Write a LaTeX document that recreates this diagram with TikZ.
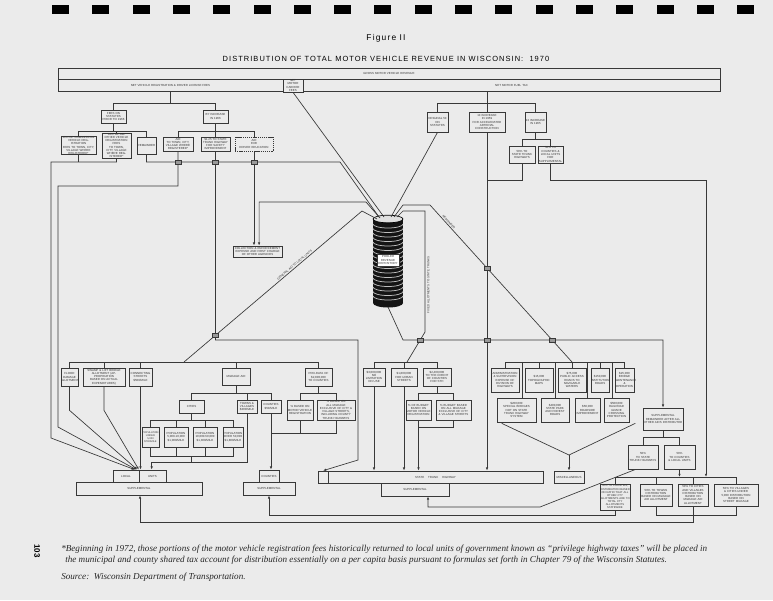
\documentclass[tikz,border=0pt]{standalone}
\usepackage{fontspec}
\setmainfont{Liberation Sans}
\newfontfamily\bxfont{Liberation Sans}
\newfontfamily\ttlfont[LetterSpace=14]{Liberation Sans}
\newfontfamily\fnfont{Liberation Serif}
\usetikzlibrary{arrows.meta,calc}
\definecolor{bgc}{HTML}{EBEBEB}
\definecolor{lc}{HTML}{383838}
\newcommand{\bx}[7][]{%
  \pgfmathsetmacro\bxw{(#4-#2)*0.75}%
  \pgfmathsetmacro\bxh{(#5-#3)*0.75}%
  \pgfmathsetmacro\bxcx{(#2+#4)/2}%
  \pgfmathsetmacro\bxcy{(#3+#5)/2}%
  \node[bx,minimum width=\bxw pt,minimum height=\bxh pt,text width=\bxw pt,#1] (#6) at (\bxcx,\bxcy) {#7};}
\begin{document}
\begin{tikzpicture}[x=0.75pt,y=-0.75pt,
  bx/.style={draw=lc,line width=0.5pt,rectangle,inner sep=0pt,align=center,font=\bxfont\fontsize{2.2}{2.45}\selectfont,text=black!80},
  ln/.style={draw=lc,line width=0.5pt},
  ar/.style={ln,-{Latex[length=2.4pt,width=1.8pt]}},
  mk/.style={draw=lc,fill=black!40,line width=0.4pt,minimum width=4.5pt,minimum height=3pt,inner sep=0pt},
  lbl/.style={font=\bxfont\fontsize{2.2}{2.4}\selectfont,inner sep=0.8pt,text=black!80},
  fn/.style={font=\fnfont\itshape\fontsize{6.85}{7.5}\selectfont,inner sep=0pt,text=black!85}]
\fill[bgc] (0,0) rectangle (773,600);
\useasboundingbox (0,0) rectangle (773,600);
% binding marks
\foreach \i in {0,...,17} \fill[black] ({52+40.3*\i},5) rectangle ({69+40.3*\i},14);
% titles
\node[font=\ttlfont\fontsize{6.3}{7}\selectfont] (fig) at (386,38) {Figure II};
\node[font=\ttlfont\fontsize{5.6}{6.5}\selectfont] (title) at (386,59) {DISTRIBUTION OF TOTAL MOTOR VEHICLE REVENUE IN WISCONSIN:\ \ 1970};
% level helpers
\foreach \v in {103,131,139,162,180,362,393,420,427,433,437,456,463,477,515,522} \coordinate (h\v) at (0,\v);
% top bar
\bx{58}{68}{720}{79}{gross}{GROSS MOTOR VEHICLE REVENUE}
\bx{58}{79}{283}{91}{netreg}{NET VEHICLE REGISTRATION \& DRIVER LICENSE FEES}
\bx{283}{79}{303}{92}{carrier}{NET\\MOTOR\\CARRIER\\FEES}
\bx{303}{79}{720}{91}{fuel}{NET MOTOR FUEL TAX}
% registration tree
\bx{101}{110}{126}{123}{fees}{FEES ON\\STATUTES\\PRIOR TO 1966}
\bx{203}{110}{228}{123}{incr}{BY INCREASE\\IN 1966}
\bx{61}{137}{96}{154}{regA}{10\% OF COMMERCIAL\\VEHICLE REGISTRATION\\FEES TO TOWN, CITY,\\VILLAGE WHERE\\REGISTERED*}
\bx{102}{137}{131}{154}{regB}{30\% OF ALL\\OTHER VEHICLE\\REGISTRATION FEES\\TO TOWN, CITY, VILLAGE\\WHERE REGISTERED*}
\bx{137}{137}{156}{154}{remain}{REMAINDER}
\bx{163}{137}{193}{151}{aidD}{AID\\TO TOWN, CITY,\\VILLAGE WHERE\\REGISTERED*}
\bx{201}{137}{230}{151}{safeE}{\$1.25 TO STATE\\TRUNK HIGHWAY\\FOR SAFETY\\IMPROVEMENT}
\bx[dash pattern=on 1pt off 0.6pt]{235}{137}{273}{151}{drvF}{AID\\FOR\\DRIVER EDUCATION}
\draw[ln] (netreg.south) -- (netreg.south |- h103);
\draw[ln] (fees.north) |- (incr.north |- h103) -- (incr.north);
\draw[ln] (regA.north) |- (remain.north |- h131) -- (remain.north);
\draw[ln] (regB.north) -- (regB.north |- h131);
\draw[ln] (fees.south) -- (fees.south |- h131);
\draw[ln] (aidD.north) |- (drvF.north |- h131) -- (drvF.north);
\draw[ln] (incr.south) -- (safeE.north);
% collection
\bx{233}{246}{282}{257}{collect}{COLLECTION \& ENFORCEMENT\\EXPENSE AND FIRST CHARGE\\OF OTHER AGENCIES}
% fuel tree
\bx{427}{112}{448}{132}{orig}{ORIGINAL 5¢\\ON\\STATUTES}
\bx{469}{112}{505}{132}{inc59}{1¢ INCREASE\\IN 1959\\FOR ACCELERATED\\ARTERIAL\\CONSTRUCTION}
\bx{525}{112}{546}{132}{inc65}{1¢ INCREASE\\IN 1965}
\bx{509}{146}{535}{163}{sth50}{50\% TO\\STATE TRUNK\\HIGHWAYS}
\bx{538}{146}{563}{163}{cl50}{50\% TO\\COUNTIES \&\\LOCAL UNITS\\FOR\\SUPPLEMENTAL}
\draw[ln] (inc59.north |- fuel.south) -- (inc59.north);
\draw[ln] (orig.north) |- (inc65.north |- h103) -- (inc65.north);
\draw[ln] (inc65.south) -- (inc65.south |- h139);
\draw[ln] (sth50.north) |- (cl50.north |- h139) -- (cl50.north);
\draw[ln] (sth50.south) |- (inc59.south |- h180);
% cylinder
\coordinate (cylT) at (388,219);
\fill[black!92] (373,219) rectangle (403,303);
\fill[black!92] (388,303) ellipse [x radius=15, y radius=4.5];
\foreach \yy in {224,228.5,...,300} \draw[white!75!black,line width=0.55pt] (373,\yy) arc[start angle=180,end angle=0,x radius=15,y radius=4];
\filldraw[fill=black!12,draw=black,line width=0.5pt] (cylT) ellipse [x radius=15, y radius=3.8];
\bx[fill=white]{377}{254}{399}{266}{pool}{POOLED\\REVENUE\\DEPOSITORY}
\coordinate (cA) at (377,219);
\coordinate (cB) at (379,217);
\coordinate (cC) at (380,218);
\coordinate (cD) at (384,217);
\coordinate (cE) at (391,217);
\coordinate (cF) at (394,217);
\coordinate (cG) at (397,217);
\coordinate (cBot) at (388,307);
\coordinate (gaEnd) at (184,362);
% middle left tree
\bx{61}{368}{78}{386}{flood}{FLOOD\\DAMAGE\\ALLOTMENT}
\bx{83}{368}{125}{386}{swamp}{SWAMP \& LIFT BRIDGE\\ALLOTMENT (APPROPRIATION\\BASED ON ACTUAL\\EXPENDITURES)}
\bx{129}{368}{152}{386}{connect}{CONNECTING\\STREETS\\\$500/MILE}
\bx{222}{368}{250}{385}{mileage}{MILEAGE AID}
\bx{305}{368}{332}{386}{prorata}{PRO-RATA OF\\\$2,800,000\\TO COUNTIES}
\bx{179}{400}{204}{413}{cities}{CITIES}
\bx{237}{400}{257}{413}{towns}{TOWNS \&\\VILLAGES\\\$300/MILE}
\bx{261}{400}{281}{413}{cntys}{COUNTIES\\\$50/MILE}
\bx[font=\bxfont\fontsize{1.9}{2.3}\selectfont]{142}{427}{159}{447}{popA}{POPULATION\\UNDER\\5,000\\\$700/MILE}
\bx{164}{427}{188}{447}{popB}{POPULATION\\5,000-10,000\\\$1,000/MILE}
\bx{193}{427}{217}{447}{popC}{POPULATION\\10,000-50,000\\\$1,300/MILE}
\bx{223}{427}{243}{447}{popD}{POPULATION\\OVER 50,000\\\$1,800/MILE}
\bx{287}{400}{313}{420}{prA}{\% BASED ON\\MOTOR VEHICLE\\REGISTRATION}
\bx{317}{400}{355}{420}{prB}{\% BASED ON ALL MILEAGE\\EXCLUSIVE OF CITY \&\\VILLAGE STREETS,\\INCLUDING COUNTY\\TRUNK HIGHWAYS}
\draw[ln] (flood.north) |- (prorata.north |- h362) -- (prorata.north);
\draw[ln] (swamp.north) -- (swamp.north |- h362);
\draw[ln] (connect.north) -- (connect.north |- h362);
\draw[ln] (mileage.north) -- (mileage.north |- h362);
\draw[ln] (mileage.south) -- (mileage.south |- h393);
\draw[ln] (cities.north) |- (cntys.north |- h393) -- (cntys.north);
\draw[ln] (towns.north) -- (towns.north |- h393);
\draw[ln] (cities.south) -- (cities.south |- h420);
\draw[ln] (popA.north) |- (popD.north |- h420) -- (popD.north);
\draw[ln] (popB.north) -- (popB.north |- h420);
\draw[ln] (popC.north) -- (popC.north |- h420);
\draw[ln] (popA.south) |- (popD.south |- h456) -- (popD.south);
\draw[ln] (popB.south) -- (popB.south |- h456);
\draw[ln] (popC.south) -- (popC.south |- h456);
\draw[ln] (cities.south |- h456) -- (cities.south |- h463);
\draw[ln] (prorata.south) -- (prorata.south |- h393);
\draw[ln] (prA.north) |- (prB.north |- h393) -- (prB.north);
\draw[ln] (cntys.south) |- (prB.south |- h433) -- (prB.south);
\draw[ln] (prA.south) -- (prA.south |- h433);
% bottom boxes
\bx{113}{470}{139}{482}{local}{LOCAL}
\bx{139}{470}{166}{482}{units}{UNITS}
\bx{76}{482}{202}{495}{supL}{SUPPLEMENTAL}
\bx{259}{470}{279}{482}{counB}{COUNTIES}
\bx{243}{482}{295}{495}{supC}{SUPPLEMENTAL}
\bx{318}{471}{328}{483}{stcell}{}
\bx{328}{471}{543}{483}{sth}{STATE \quad TRUNK \quad HIGHWAY}
\bx{381}{483}{449}{496}{supS}{SUPPLEMENTAL}
\bx{554}{471}{584}{483}{misc}{MISCELLANEOUS}
\draw[ar] (towns.south) |- ($(units.north west)+(13,-7)$) -- ($(units.north west)+(13,0)$);
\draw[ar] (cntys.south) -- (cntys.south |- counB.north);
% middle right trees
\bx{363}{368}{385}{386}{tA}{\$3,000,000\\NO\\LIMITATION\\ON USE}
\bx{391}{368}{417}{386}{tB}{\$1,800,000\\FOR URBAN\\STREETS}
\bx{423}{368}{451}{386}{tC}{\$2,400,000\\TO THE CREDIT\\OF COUNTIES\\FOR STH}
\bx{406}{400}{431}{420}{tD}{\% OF BUDGET\\BASED ON\\MOTOR VEHICLE\\REGISTRATION}
\bx{436}{400}{471}{420}{tE}{\% BUDGET BASED\\ON ALL MILEAGE\\EXCLUSIVE OF CITY\\\& VILLAGE STREETS}
\draw[ln] (tA.north) |- (tC.north |- h362) -- (tC.north);
\draw[ln] (tB.north) -- (tB.north |- h362);
\draw[ar] (tA.south) -- (tA.south |- sth.north);
\draw[ar] (tB.south) -- (tB.south |- sth.north);
\draw[ln] (tC.south) -- (tC.south |- h393);
\draw[ln] (tD.north) |- (tE.north |- h393) -- (tE.north);
\draw[ln] (tD.south) |- (tE.south |- h427) -- (tE.south);
\draw[ar] (tD.south) -- (tD.south |- sth.north);
\bx{491}{368}{519}{392}{adA}{ADMINISTRATION\\\& SUPERVISION\\EXPENSE OF\\DIVISION OF\\HIGHWAYS}
\bx{525}{368}{553}{392}{adB}{\$15,000\\TOPOGRAPHIC\\MAPS}
\bx{558}{368}{586}{392}{adC}{\$75,000\\PUBLIC ACCESS\\ROADS TO\\NAVIGABLE\\WATERS}
\bx{591}{368}{609}{392}{adD}{\$150,000\\INSTITUTION\\ROADS}
\bx{615}{368}{634}{392}{adE}{\$25,000\\BRIDGE\\MAINTENANCE\\\&\\OPERATION}
\bx{497}{398}{536}{422}{adF}{\$200,000\\SPECIAL BRIDGES\\NOT ON STATE\\TRUNK HIGHWAY\\SYSTEM}
\bx{541}{398}{569}{422}{adG}{\$400,000\\STATE PARK\\AND FOREST\\ROADS}
\bx{575}{398}{600}{422}{adH}{\$50,000\\ROADSIDE\\IMPROVEMENT}
\bx{604}{398}{629}{422}{adI}{\$500,000\\RAILROAD\\GRADE CROSSING\\PROTECTION}
\draw[ln] (adA.north) |- (adE.north |- h362) -- (adE.north);
\draw[ln] (adB.north) -- (adB.north |- h362);
\draw[ln] (adC.north) -- (adC.north |- h362);
\draw[ln] (adD.north) -- (adD.north |- h362);
\draw[ln] ($(adF.north)+(5.5,0)$) -- ($(adF.north)+(5.5,-36)$);
\draw[ln] (adG.north) -- (adG.north |- h362);
\draw[ln] (adH.north) -- (adH.north |- h362);
\draw[ln] ($(adI.north)+(-4.5,0)$) -- ($(adI.north)+(-4.5,-36)$);
\coordinate (mj) at (569,455);
\draw[ln] ($(adF.south west)+(5,1)$) -- (mj);
\draw[ln] ($(adI.south east)+(6,1)$) -- (mj);
\draw[ar] (mj) -- (mj |- misc.north);
% supplemental remainder
\bx{643}{408}{683}{430}{suprem}{SUPPLEMENTAL\\REMAINDER AFTER ALL\\OTHER AIDS DISTRIBUTED}
\bx{628}{445}{658}{469}{s50a}{50\%\\TO STATE\\TRUNK HIGHWAYS}
\bx{664}{445}{695}{469}{s50b}{50\%\\TO COUNTIES\\\& LOCAL UNITS}
\draw[ln] (suprem.south) -- (suprem.south |- h437);
\draw[ln] (s50a.north) |- (s50b.north |- h437) -- (s50b.north);
\draw[ar] ($(s50a.south west)+(8,0)$) -- (540,507) -| ($(supS.south)+(13,0)$);
\draw[ar] (s50b.south) -- (s50b.south |- h477);
\bx[font=\bxfont\fontsize{2.05}{2.35}\selectfont]{600}{484}{630}{510}{b1}{50\% TO COUNTIES,\\DISTRIBUTION BASED\\ON RATIO THAT ALL\\OTHER CTY\\ALLOTMENTS ARE TO\\TOTAL CTY\\ALLOTMENTS\\STATEWIDE}
\bx{640}{484}{672}{506}{b2}{50\% TO TOWNS\\DISTRIBUTION\\BASED ON MILEAGE\\AID ALLOTMENT}
\bx{678}{484}{708}{506}{b3}{50\% TO CITIES\\AND VILLAGES\\DISTRIBUTION\\BASED ON\\MILEAGE AID\\ALLOTMENT}
\bx{714}{484}{758}{506}{b4}{50\% TO VILLAGES\\\& CITIES UNDER\\5,000 DISTRIBUTION\\BASED ON\\STREET MILEAGE}
\draw[ln] (b1.north) |- (b4.north |- h477) -- (b4.north);
\draw[ln] (b2.north) -- (b2.north |- h477);
\draw[ln] (b3.north) -- (b3.north |- h477);
\draw[ar] (b1.south) -- ++(0,5) -| (supC.south);
\draw[ln] (b2.south) |- (b4.south |- h515) -- (b4.south);
\draw[ln] (b3.south) -- (b3.south |- h515);
\draw[ar] (b3.south |- h515) -- (b3.south |- h522) -| ($(supL.south)+(1,0)$);
% connectors from the upper part
\draw[ln] (regA.south) -- (regA.south |- h162);
\draw[ar] (regB.south) |- (51,162) -- (51,438) -- ($(local.north east)+(-4.5,0)$);
\draw[ar] (aidD.south) |- (58,186) -- (58,427) -- ($(local.north east)+(-3,0)$);
\draw[ar] (flood.south) -- ++(0,24) -- ($(local.north east)+(-2,0)$);
\draw[ar] (swamp.south) -- ++(0,24) -- ($(local.north east)+(-0.5,0)$);
\draw[ar] (connect.south) -- (connect.south |- units.north);
\draw[ln] (remain.south) |- (340,162) -- (cB);
\draw[ln] (carrier.south) -- (cD);
\draw[ar] (safeE.south) |- (358,340) -- (358,460) -- (stcell.north);
\draw[ar] (drvF.south) -- (drvF.south |- collect.north);
\draw[ar] (cC) -- (366,202) -| ($(collect.north)+(1.6,0)$);
\draw[ln] (cA) -- (362,211) -- (gaEnd);
\path (gaEnd) -- (362,211) node[pos=0.63,sloped,above,lbl] (gal) {GENERAL AID TO LOCAL UNITS};
\draw[ln] (orig.south) -- (cE);
\draw[ln] (cG) -- (403,211) -- (425,211) -- (425,332) -- (407,362);
\node[lbl,rotate=90,anchor=north] (fal) at (426,285) {FIXED ALLOTMENTS TO STATE TRUNKS};
\draw[ln] (cF) -- (403,205) -- (430,205) -- (572,362);
\path (430,205) -- (572,362) node[pos=0.12,sloped,above,lbl] (rml) {REMAINDER};
\draw[ar] (cBot) -- (403,340) -- (663,340) -- (suprem.north);
\draw[ar] (inc59.south) -- (inc59.south |- sth.north);
\draw[ar] (cl50.south) |- (706,180) -- (706,477);
% crossing markers
\foreach \p in {(178,162),(215.5,162),(254,162),(215.5,335),(420,340),(487,340),(552,340),(487,268)} \node[mk] at \p {};
% footnote
\node[fn,anchor=base west] (fn1) at (61,551) {*Beginning in 1972, those portions of the motor vehicle registration fees historically returned to local units of government known as “privilege highway taxes” will be placed in};
\node[fn,anchor=base west] (fn2) at (65,562) {the municipal and county shared tax account for distribution essentially on a per capita basis pursuant to formulas set forth in Chapter 79 of the Wisconsin Statutes.};
\node[fn,anchor=base west] (src) at (61,579) {Source:\ \ Wisconsin Department of Transportation.};
\node[font=\bxfont\bfseries\fontsize{6}{7}\selectfont,rotate=-90] (pg) at (37,551) {103};
\end{tikzpicture}
\end{document}
